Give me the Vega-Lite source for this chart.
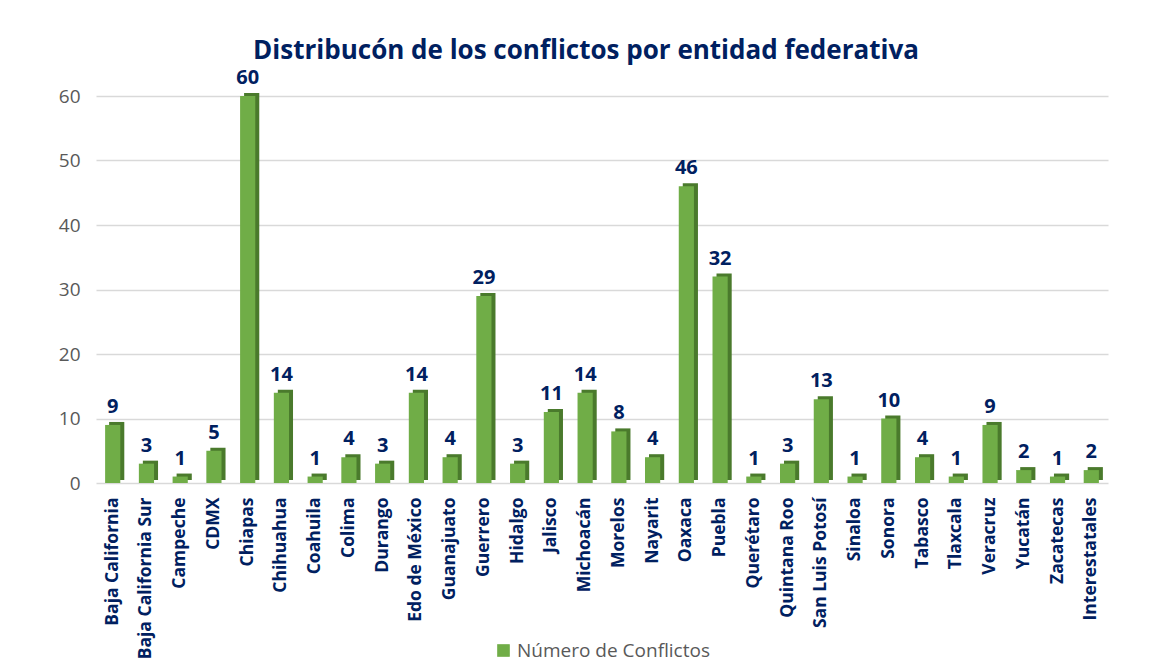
{
  "$schema": "https://vega.github.io/schema/vega-lite/v6.json",
  "autosize": "none",
  "width": 1012,
  "height": 387,
  "padding": {"top": 96, "left": 96, "right": 51, "bottom": 181},
  "background": "white",
  "config": {"view": {"stroke": null}, "font": "Open Sans"},
  "title": {
    "text": "Distribucón de los conflictos por entidad federativa",
    "color": "#002060",
    "fontSize": 26,
    "fontWeight": "bold",
    "font": "Open Sans",
    "anchor": "middle",
    "dx": -16,
    "offset": 4
  },
  "data": {
    "values": [
      {"entidad": "Baja California", "conflictos": 9},
      {"entidad": "Baja California Sur", "conflictos": 3},
      {"entidad": "Campeche", "conflictos": 1},
      {"entidad": "CDMX", "conflictos": 5},
      {"entidad": "Chiapas", "conflictos": 60},
      {"entidad": "Chihuahua", "conflictos": 14},
      {"entidad": "Coahuila", "conflictos": 1},
      {"entidad": "Colima", "conflictos": 4},
      {"entidad": "Durango", "conflictos": 3},
      {"entidad": "Edo de México", "conflictos": 14},
      {"entidad": "Guanajuato", "conflictos": 4},
      {"entidad": "Guerrero", "conflictos": 29},
      {"entidad": "Hidalgo", "conflictos": 3},
      {"entidad": "Jalisco", "conflictos": 11},
      {"entidad": "Michoacán", "conflictos": 14},
      {"entidad": "Morelos", "conflictos": 8},
      {"entidad": "Nayarit", "conflictos": 4},
      {"entidad": "Oaxaca", "conflictos": 46},
      {"entidad": "Puebla", "conflictos": 32},
      {"entidad": "Querétaro", "conflictos": 1},
      {"entidad": "Quintana Roo", "conflictos": 3},
      {"entidad": "San Luis Potosí", "conflictos": 13},
      {"entidad": "Sinaloa", "conflictos": 1},
      {"entidad": "Sonora", "conflictos": 10},
      {"entidad": "Tabasco", "conflictos": 4},
      {"entidad": "Tlaxcala", "conflictos": 1},
      {"entidad": "Veracruz", "conflictos": 9},
      {"entidad": "Yucatán", "conflictos": 2},
      {"entidad": "Zacatecas", "conflictos": 1},
      {"entidad": "Interestatales", "conflictos": 2}
    ]
  },
  "encoding": {
    "x": {
      "field": "entidad",
      "type": "nominal",
      "sort": null,
      "scale": {"paddingInner": 0.55, "paddingOuter": 0.27},
      "axis": {
        "title": null,
        "labelAngle": -90,
        "labelAlign": "right",
        "labelBaseline": "middle",
        "labelColor": "#002060",
        "labelFontWeight": "bold",
        "labelFontSize": 17.5,
        "labelPadding": 14,
        "labelLimit": 300,
        "domain": false,
        "ticks": false
      }
    },
    "y": {
      "field": "conflictos",
      "type": "quantitative",
      "scale": {"domain": [0, 60]},
      "axis": {
        "title": null,
        "values": [0, 10, 20, 30, 40, 50, 60],
        "labelColor": "#595959",
        "labelFontSize": 19,
        "labelPadding": 16,
        "gridColor": "#d9d9d9",
        "gridWidth": 1.5,
        "domain": false,
        "ticks": false
      }
    }
  },
  "layer": [
    {
      "mark": {"type": "bar", "color": "#4A7A2C", "xOffset": 4, "yOffset": -3}
    },
    {
      "mark": {"type": "bar"},
      "encoding": {
        "color": {
          "datum": "Número de Conflictos",
          "type": "nominal",
          "scale": {"range": ["#70AD47"]},
          "legend": {
            "title": null,
            "orient": "none",
            "legendX": 398,
            "legendY": 545,
            "symbolType": "square",
            "symbolSize": 160,
            "symbolStrokeWidth": 0,
            "labelFontSize": 19,
            "labelLimit": 400,
            "labelColor": "#595959",
            "labelOffset": 4
          }
        }
      }
    },
    {
      "mark": {
        "type": "text",
        "baseline": "bottom",
        "dy": -8,
        "color": "#002060",
        "fontWeight": "bold",
        "fontSize": 20
      },
      "encoding": {"text": {"field": "conflictos", "type": "quantitative"}}
    }
  ]
}
